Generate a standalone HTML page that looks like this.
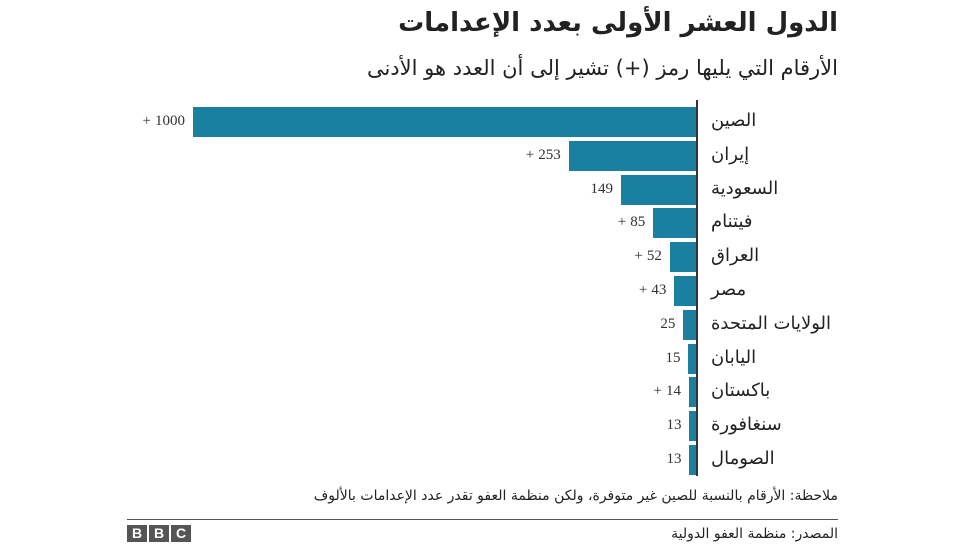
<!DOCTYPE html>
<html><head><meta charset="utf-8"><style>
body{margin:0;width:976px;height:549px;background:#fff;position:relative;overflow:hidden;font-family:"DejaVu Sans","Liberation Sans",sans-serif;color:#222}
.a{position:absolute;white-space:nowrap}
.bar{position:absolute;background:#1a7fa0;height:30px}
.v{position:absolute;font-family:"Liberation Serif",serif;font-size:15px;color:#333;width:60px;text-align:right;white-space:nowrap}
.p{position:absolute;font-family:"Liberation Serif",serif;font-size:15px;color:#333;width:12px;text-align:right}
.c{position:absolute;left:711px;font-size:18px;direction:rtl;white-space:nowrap;color:#222}
</style></head><body>
<div class="a" style="right:138px;top:8px;font-size:26px;font-weight:bold;direction:rtl">الدول العشر الأولى بعدد الإعدامات</div>
<div class="a" style="right:138px;top:56px;font-size:21px;direction:rtl">الأرقام التي يليها رمز (+) تشير إلى أن العدد هو الأدنى</div>
<div style="position:absolute;left:696px;top:100px;width:2px;height:376px;background:#333"></div>
<div id="chart"></div>
<div class="a" style="right:138px;top:488px;font-size:14px;direction:rtl">ملاحظة: الأرقام بالنسبة للصين غير متوفرة، ولكن منظمة العفو تقدر عدد الإعدامات بالألوف</div>
<div style="position:absolute;left:127px;top:519px;width:711px;height:1px;background:#555"></div>
<div class="a" style="left:127px;top:525px;display:flex;gap:2px">
<span style="display:inline-block;width:20px;height:17px;background:#555;color:#fff;font:bold 14px 'Liberation Sans';text-align:center;line-height:17px">B</span>
<span style="display:inline-block;width:20px;height:17px;background:#555;color:#fff;font:bold 14px 'Liberation Sans';text-align:center;line-height:17px">B</span>
<span style="display:inline-block;width:20px;height:17px;background:#555;color:#fff;font:bold 14px 'Liberation Sans';text-align:center;line-height:17px">C</span>
</div>
<div class="a" style="right:138px;top:526px;font-size:14px;direction:rtl">المصدر: منظمة العفو الدولية</div>
<script>
var d=[["الصين",1000,1],["إيران",253,1],["السعودية",149,0],["فيتنام",85,1],["العراق",52,1],["مصر",43,1],["الولايات المتحدة",25,0],["اليابان",15,0],["باكستان",14,1],["سنغافورة",13,0],["الصومال",13,0]];
var h="";
d.forEach(function(r,i){var t=107+i*33.8;var w=r[1]*0.503;var l=696-w;
var nr=l-8;var nw=String(r[1]).length*7.5;
h+='<div class="bar" style="left:'+l+'px;top:'+t+'px;width:'+w+'px"></div>';
h+='<div class="v" style="left:'+(nr-60)+'px;top:'+(t+6)+'px">'+r[1]+'</div>';
if(r[2])h+='<div class="p" style="left:'+(nr-nw-16)+'px;top:'+(t+6)+'px">+</div>';
h+='<div class="c" style="top:'+(t+3)+'px">'+r[0]+'</div>';});
document.getElementById("chart").innerHTML=h;
</script>
</body></html>
